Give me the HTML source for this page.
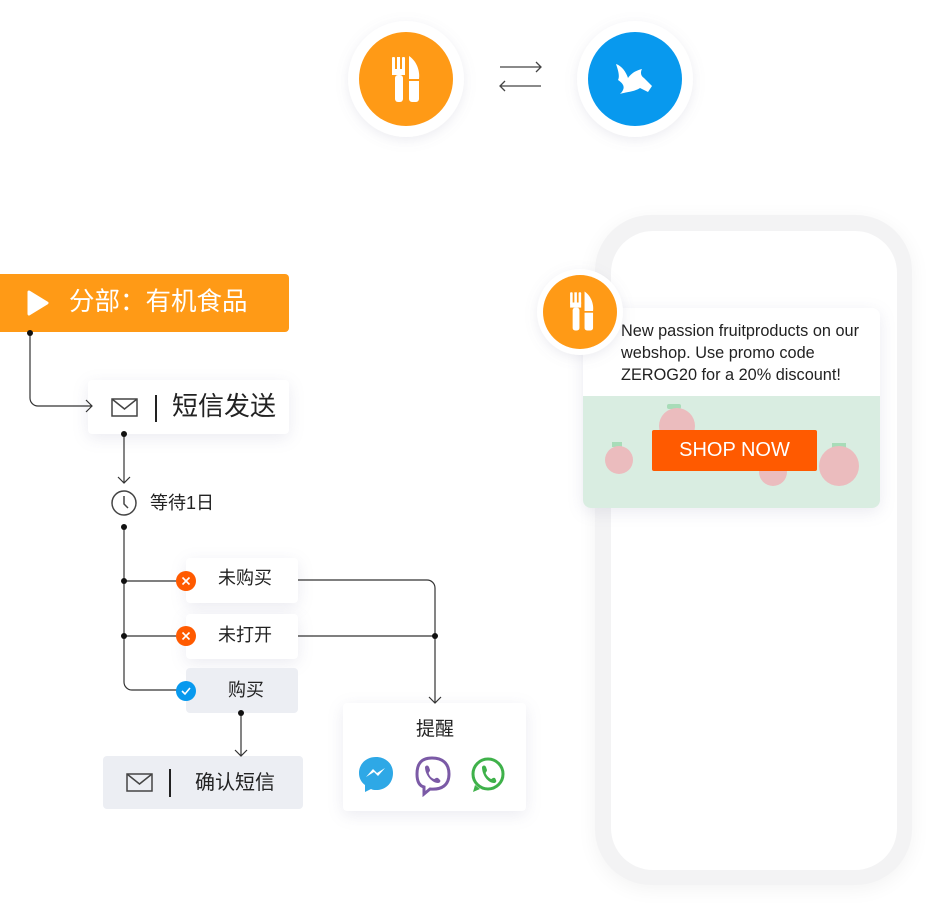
<!DOCTYPE html>
<html><head><meta charset="utf-8"><style>
body{margin:0;width:936px;height:910px;background:#fff;position:relative;overflow:hidden;font-family:"Liberation Sans","Noto Sans CJK SC",sans-serif;color:#222}
.a{position:absolute}
.box{position:absolute;background:#fff;border-radius:4px;box-shadow:0 4px 16px rgba(120,120,160,.15)}
.gray{background:#eceef3;box-shadow:none}
</style></head><body>
<!-- phone -->
<div class="a" style="left:595px;top:215px;width:317px;height:670px;border-radius:56px;background:#f3f3f4;box-shadow:0 4px 20px rgba(0,0,0,.05)"></div>
<div class="a" style="left:611px;top:231px;width:286px;height:639px;border-radius:42px;background:#fff"></div>
<!-- notification card -->
<div class="box" style="left:583px;top:308px;width:297px;height:200px;border-radius:8px;overflow:hidden">
 <div class="a" style="left:38px;top:12px;font-size:16.3px;line-height:22px;color:#222;white-space:nowrap">New passion fruitproducts on our<br>webshop. Use promo code<br>ZEROG20 for a 20% discount!</div>
 <div class="a" style="left:0;top:88px;width:297px;height:112px;background:#d9ede1">
  <div class="a" style="left:84px;top:8px;width:14px;height:5px;background:#a8dcb8;border-radius:2px"></div>
  <div class="a" style="left:76px;top:12px;width:36px;height:36px;border-radius:50%;background:#ebbcbe"></div>
  <div class="a" style="left:29px;top:46px;width:10px;height:5px;background:#a8dcb8"></div>
  <div class="a" style="left:22px;top:50px;width:28px;height:28px;border-radius:50%;background:#ebbcbe"></div>
  <div class="a" style="left:176px;top:62px;width:28px;height:28px;border-radius:50%;background:#ebbcbe"></div>
  <div class="a" style="left:249px;top:47px;width:14px;height:5px;background:#a8dcb8"></div>
  <div class="a" style="left:236px;top:50px;width:40px;height:40px;border-radius:50%;background:#ebbcbe"></div>
  <div class="a" style="left:69px;top:34px;width:165px;height:41px;background:#ff5a00;border-radius:2px;color:#fff;font-size:20px;text-align:center;line-height:41px">SHOP NOW</div>
 </div>
</div>
<!-- flow boxes -->
<div class="a" style="left:0;top:274px;width:289px;height:58px;background:#ff9a16;border-radius:0 4px 4px 0"></div>
<svg class="a" style="left:27px;top:290px" width="22" height="26"><path d="M2,2 L20,13 L2,24Z" fill="#fff" stroke="#fff" stroke-width="3" stroke-linejoin="round"/></svg>
<div class="a" style="left:69px;top:285px;color:#fff;font-size:25.5px;line-height:34px">分部：有机食品</div>

<div class="box" style="left:88px;top:380px;width:201px;height:54px"></div>
<svg class="a" style="left:111px;top:398px" width="28" height="20"><rect x="1" y="1" width="25" height="17" fill="none" stroke="#444" stroke-width="1.5"/><path d="M1,1L13.5,11L26,1" fill="none" stroke="#444" stroke-width="1.5"/></svg>
<div class="a" style="left:155px;top:395px;width:2px;height:27px;background:#222"></div>
<div class="a" style="left:172px;top:389px;font-size:26px;line-height:34px">短信发送</div>

<svg class="a" style="left:111px;top:490px" width="27" height="27"><circle cx="13" cy="13" r="12" fill="none" stroke="#444" stroke-width="1.5"/><path d="M13,6V14L17,18" fill="none" stroke="#444" stroke-width="1.5"/></svg>
<div class="a" style="left:150px;top:491px;font-size:18px;line-height:24px">等待1日</div>

<div class="box" style="left:186px;top:558px;width:112px;height:45px"></div>
<div class="a" style="left:218px;top:566px;font-size:18px;line-height:24px">未购买</div>
<div class="box" style="left:186px;top:614px;width:112px;height:45px"></div>
<div class="a" style="left:218px;top:623px;font-size:18px;line-height:24px">未打开</div>
<div class="box gray" style="left:186px;top:668px;width:112px;height:45px"></div>
<div class="a" style="left:228px;top:678px;font-size:18px;line-height:24px">购买</div>

<div class="box gray" style="left:103px;top:756px;width:200px;height:53px"></div>
<svg class="a" style="left:126px;top:773px" width="28" height="20"><rect x="1" y="1" width="25" height="17" fill="none" stroke="#444" stroke-width="1.5"/><path d="M1,1L13.5,11L26,1" fill="none" stroke="#444" stroke-width="1.5"/></svg>
<div class="a" style="left:169px;top:769px;width:2px;height:28px;background:#222"></div>
<div class="a" style="left:195px;top:770px;font-size:20px;line-height:26px">确认短信</div>

<div class="box" style="left:343px;top:703px;width:183px;height:108px"></div>
<div class="a" style="left:416px;top:717px;font-size:19px;line-height:26px">提醒</div>
<svg class="a" style="left:358px;top:755px" width="150" height="42">
 <path d="M18,2C8,2 1,9 1,18C1,23 3,27 7,30L7,37L13,34C15,35 16,35 18,35C28,35 35,28 35,18C35,9 28,2 18,2Z" fill="#2ea8e6"/>
 <path d="M8,22L15,14L19,18L27,13L20,21L16,17Z" fill="#fff"/>
 <path d="M74,3C64,3 59,8 59,19C59,27 62,31 66,32L66,39L72,34C84,35 91,30 91,19C91,8 84,3 74,3Z" fill="none" stroke="#7b5aa6" stroke-width="3"/>
 <path d="M67,12C68,10 70,10 71,12L72,15C72,17 70,17 71,19C72,22 74,23 76,24C77,24 78,22 80,23L82,25C83,26 82,28 80,28C74,28 67,20 67,12Z" fill="#7b5aa6"/>
 <circle cx="130" cy="19" r="15" fill="none" stroke="#3fb14a" stroke-width="3"/><path d="M117,30L115,37L122,34" fill="#3fb14a"/>
 <path d="M124,12C125,10 127,10 128,12L129,15C129,17 127,17 128,19C129,21 131,23 133,24C134,24 135,22 137,23L138,25C139,27 137,28 136,28C130,28 124,20 124,12Z" fill="#3fb14a"/>
</svg>

<!-- overlay svg -->
<svg class="a" style="left:0;top:0" width="936" height="910">
 <defs><filter id="sh" x="-30%" y="-30%" width="160%" height="160%"><feDropShadow dx="0" dy="3" stdDeviation="6" flood-color="#8080a0" flood-opacity=".15"/></filter>
 <g id="fork"><rect x="-14" y="-22" width="3" height="14" rx="1" fill="#fff"/><rect x="-9" y="-22" width="3" height="14" fill="#fff"/><rect x="-4" y="-22" width="3" height="14" rx="1" fill="#fff"/><rect x="-14" y="-10" width="13" height="6" fill="#fff"/><rect x="-11" y="-4" width="8" height="27" rx="3" fill="#fff"/><path d="M3,-23 C12,-17 14,-6 13,0 L13,20 a3,3 0 0 1 -3,3 L6,23 a3,3 0 0 1 -3,-3 Z" fill="#fff"/><rect x="2" y="0" width="12" height="2" fill="#ff9a16"/></g></defs>
 <circle cx="406" cy="79" r="58" fill="#fff" filter="url(#sh)"/><circle cx="406" cy="79" r="47" fill="#ff9a16"/>
 <use href="#fork" transform="translate(406,79)"/>
 <circle cx="635" cy="79" r="58" fill="#fff" filter="url(#sh)"/><circle cx="635" cy="79" r="47" fill="#0899ee"/>
 <path d="M616,64 C622,66 626,72 628,78 C632,72 638,70 642,69 C640,73 641,76 644,78 L652,86 L648,92 L640,88 C634,92 626,92 620,94 C626,88 624,84 618,80 C620,76 618,70 616,64Z" fill="#fff"/>
 <path d="M500,67H541M536,62L541,67L536,72M541,86H500M505,81L500,86L505,91" stroke="#444" stroke-width="1.3" fill="none"/>
 <circle cx="580" cy="312" r="43" fill="#fff" filter="url(#sh)"/><circle cx="580" cy="312" r="37" fill="#ff9a16"/>
 <use href="#fork" transform="translate(582,311) scale(.85)"/>
 <g stroke="#333" stroke-width="1.2" fill="none">
  <path d="M30,333V398a8,8 0 0 0 8,8H92M86,400L92,406L86,412"/>
  <path d="M124,434V483M118,477L124,483L130,477"/>
  <path d="M124,527V682a8,8 0 0 0 8,8H186M124,581H186M124,636H186"/>
  <path d="M298,580H427a8,8 0 0 1 8,8V703M429,697L435,703L441,697M298,636H435"/>
  <path d="M241,713V756M235,750L241,756L247,750"/>
 </g>
 <g fill="#111"><circle cx="30" cy="333" r="3"/><circle cx="124" cy="434" r="3"/><circle cx="124" cy="527" r="3"/><circle cx="124" cy="581" r="3"/><circle cx="124" cy="636" r="3"/><circle cx="435" cy="636" r="3"/><circle cx="241" cy="713" r="3"/></g>
 <circle cx="186" cy="581" r="10" fill="#ff5a00"/><path d="M182.5,577.5L189.5,584.5M189.5,577.5L182.5,584.5" stroke="#fff" stroke-width="1.6"/>
 <circle cx="186" cy="636" r="10" fill="#ff5a00"/><path d="M182.5,632.5L189.5,639.5M189.5,632.5L182.5,639.5" stroke="#fff" stroke-width="1.6"/>
 <circle cx="186" cy="691" r="10" fill="#0899ee"/><path d="M182,691L185,694L190,688" stroke="#fff" stroke-width="1.6" fill="none"/>
</svg>
</body></html>
